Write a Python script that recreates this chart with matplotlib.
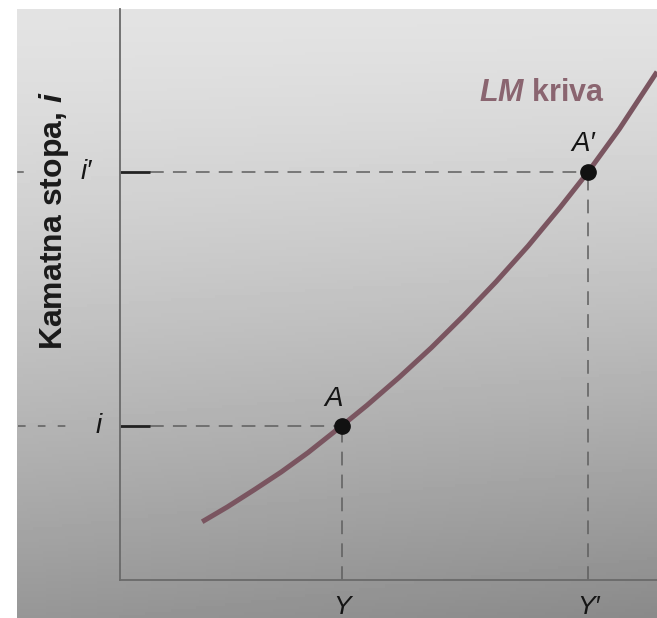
import numpy as np
import matplotlib.pyplot as plt

plt.rcParams['font.family'] = ['Liberation Sans', 'DejaVu Sans']
plt.rcParams['mathtext.fontset'] = 'custom'
plt.rcParams['mathtext.it'] = 'Liberation Sans:italic:bold'
plt.rcParams['mathtext.rm'] = 'Liberation Sans:bold'

# LM kriva (dohodak Y, kamatna stopa i) - ocitane tocke
lm_y = [1.53, 2.0, 2.5, 3.0, 3.5, 4.13, 4.6, 5.2, 5.8, 6.4, 7.0, 7.6, 8.2,
        8.72, 9.3, 10.0]
lm_i = [1.02, 1.28, 1.58, 1.89, 2.23, 2.70, 3.06, 3.55, 4.07, 4.63, 5.22,
        5.85, 6.53, 7.15, 7.90, 8.90]

# ravnoteze A i A'
tocke = ["A", "A\u2032"]
tocke_y = [4.13, 8.72]
tocke_i = [2.70, 7.15]
oznake_y = ["Y", "Y\u2032"]
oznake_i = ["i", "i\u2032"]

fig = plt.figure(figsize=(6.57, 6.18), dpi=100)
fig.patch.set_facecolor('white')

# pozadina (fotografirana stranica)
bg = fig.add_axes([17/657, 0, 1 - 17/657, 1 - 9/618])
gy = np.linspace(0, 1, 200)[:, None]
gx = np.linspace(0, 1, 200)[None, :]
svjetlina = 0.89 - 0.30 * gy**1.3 - 0.05 * gx * gy
bg.imshow(svjetlina, cmap='gray', vmin=0, vmax=1, aspect='auto',
          extent=[0, 1, 0, 1], origin='upper')
bg.axis('off')

ax = fig.add_axes([120/657, 38/618, 537/657, 571/618])
ax.set_facecolor('none')
ax.set_xlim(0, 10)
ax.set_ylim(0, 10)
for s in ['top', 'right']:
    ax.spines[s].set_visible(False)
for s in ['left', 'bottom']:
    ax.spines[s].set_color('#6a6a6a')
    ax.spines[s].set_linewidth(1.3)
ax.set_xticks([])
ax.set_yticks([])

crta = dict(color='#5e5e5e', lw=1.1, ls=(0, (9, 6)))
for x, y in zip(tocke_y, tocke_i):
    ax.plot([0.56, x], [y, y], **crta)
    ax.plot([x, x], [0, y], **crta)
    ax.plot([0, 0.56], [y, y], color='#222222', lw=2, solid_capstyle='butt')

# ostaci susjedne slike lijevo od osi
ax.plot([-1.9, -0.95], [tocke_i[0], tocke_i[0]], clip_on=False,
        color='#5e5e5e', lw=1.1, ls=(0, (5, 8)))
ax.plot([-1.9, -1.8], [tocke_i[1], tocke_i[1]], clip_on=False,
        color='#5e5e5e', lw=1.1)

ax.plot(lm_y, lm_i, color='#7a5560', lw=3.6, solid_capstyle='butt',
        solid_joinstyle='round', clip_on=False)
ax.plot(tocke_y, tocke_i, 'o', color='#111111', ms=11, zorder=5)

ax.text(tocke_y[0] - 0.15, tocke_i[0] + 0.24, tocke[0], fontsize=20,
        fontstyle='italic', ha='center', va='bottom', color='#151515')
ax.text(tocke_y[1] - 0.1, tocke_i[1] + 0.25, tocke[1], fontsize=20,
        fontstyle='italic', ha='center', va='bottom', color='#151515')

ax.text(-0.35, tocke_i[0], oznake_i[0], fontsize=20, fontstyle='italic',
        ha='right', va='center', color='#151515')
ax.text(-0.52, tocke_i[1], oznake_i[1], fontsize=20, fontstyle='italic',
        ha='right', va='center', color='#151515')
for x, t in zip(tocke_y, oznake_y):
    ax.text(x, -0.27, t, fontsize=19, fontstyle='italic', ha='center',
            va='top', color='#151515', clip_on=False)

ax.text(7.86, 8.53, r'$LM$ kriva', fontsize=22, fontweight='bold',
        color='#8a6570', ha='center', va='center')
ax.text(-1.22, 6.3, r'Kamatna stopa, $i$', fontsize=23, fontweight='bold',
        rotation=90, ha='center', va='center', color='#1a1a1a')

fig.savefig('out.png', dpi=100)
